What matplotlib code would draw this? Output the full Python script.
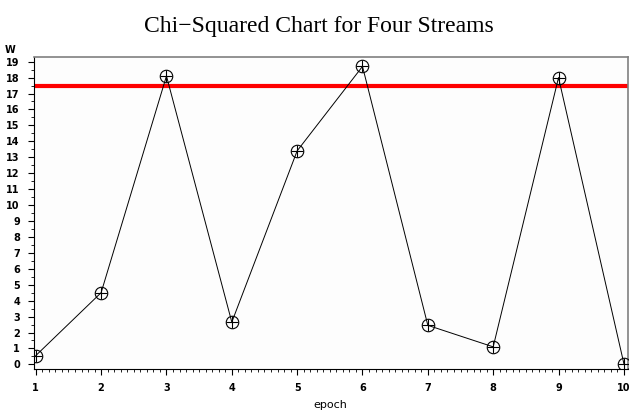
import matplotlib
matplotlib.use("Agg")
import matplotlib.pyplot as plt
from matplotlib.ticker import MultipleLocator

# data
epoch = [1, 2, 3, 4, 5, 6, 7, 8, 9, 10]
chi_sq = [0.55, 4.5, 18.1, 2.65, 13.4, 18.7, 2.45, 1.1, 18.0, 0.05]
limit = 17.5
y_ticks = list(range(0, 20))

fig = plt.figure(figsize=(6.38, 4.12), dpi=100)
ax = fig.add_axes([0.053, 0.104, 0.931, 0.758])

ax.plot(epoch, chi_sq, color="black", lw=0.7, zorder=2)
ax.plot(epoch, chi_sq, "o", ms=9, mfc="none", mec="black", mew=0.8, zorder=3)
ax.plot(epoch, chi_sq, "+", ms=9, color="black", mew=0.8, zorder=3)
ax.axhline(limit, color="red", lw=3, zorder=1)

ax.set_xlim(0.97, 10.06)
ax.set_ylim(-0.3, 19.3)
ax.set_xticks(epoch)
ax.set_yticks(y_ticks)
ax.xaxis.set_minor_locator(MultipleLocator(0.1))
ax.yaxis.set_minor_locator(MultipleLocator(0.5))
ax.tick_params(which="major", direction="out", length=4, labelsize=7, pad=6)
ax.tick_params(which="minor", direction="out", length=2)
for lab in ax.get_xticklabels() + ax.get_yticklabels():
    lab.set_fontweight("bold")

for s in ["top", "right"]:
    ax.spines[s].set_color("gray")
    ax.spines[s].set_linewidth(1.2)
ax.set_facecolor("#fdfdfd")

ax.set_xlabel("epoch", fontsize=8, labelpad=5)
ax.text(-0.04, 1.005, "W", transform=ax.transAxes, fontsize=7,
        fontweight="bold", ha="center", va="bottom")
fig.suptitle("Chi\u2212Squared Chart for Four Streams", y=0.96,
             fontsize=17, family="Liberation Serif")

fig.savefig("out.png", dpi=100)
